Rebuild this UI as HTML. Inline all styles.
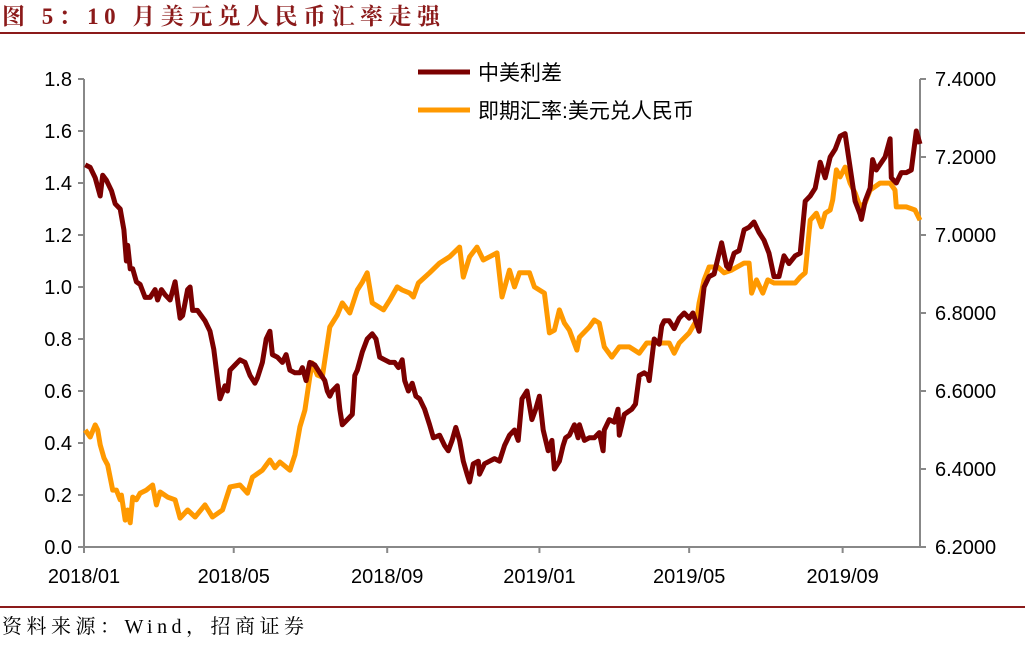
<!DOCTYPE html>
<html><head><meta charset="utf-8"><style>
body{margin:0;background:#fff;width:1025px;height:641px;overflow:hidden;font-family:"Liberation Sans","Noto Sans CJK SC",sans-serif}
</style></head><body>
<svg width="1025" height="641" xmlns="http://www.w3.org/2000/svg">
<text x="2" y="24" font-size="23" font-weight="bold" fill="#8B1A1A" textLength="438" lengthAdjust="spacing" font-family="'Liberation Serif','Noto Serif CJK SC',serif">图 5：10 月美元兑人民币汇率走强</text>
<line x1="0" y1="33" x2="1025" y2="33" stroke="#8B1A1A" stroke-width="2"/>
<line x1="0" y1="607" x2="1025" y2="607" stroke="#8B1A1A" stroke-width="2"/>
<text x="2" y="633" font-size="20" fill="#000" textLength="302" lengthAdjust="spacing" font-family="'Liberation Serif','Noto Serif CJK SC',serif">资料来源：Wind，招商证券</text>
<g id="axes"></g>
<g id="plot"></g>
<g>
<line x1="418" y1="72" x2="470" y2="72" stroke="#7B0000" stroke-width="5"/>
<text x="478" y="80" font-size="21">中美利差</text>
<line x1="418" y1="110" x2="470" y2="110" stroke="#FF9900" stroke-width="5"/>
<text x="478" y="118" font-size="21">即期汇率:美元兑人民币</text>
</g>
</svg>
<script>
const spreadDays=[1,5,9,13,15,18,22,25,29,32,34,35,37,39,42,45,49,53,57,59,62,65,69,73,75,77,79,83,85,87,91,97,101,104,109,113,115,117,121,125,129,133,137,139,143,146,149,151,155,159,162,165,169,173,175,178,181,185,189,193,195,197,199,203,205,207,211,215,217,219,223,227,231,234,237,241,245,249,252,255,257,260,263,266,269,273,277,280,285,289,292,295,298,301,304,307,309,312,316,317,321,325,329,333,337,341,345,348,351,355,359,362,365,368,372,375,377,381,384,386,389,393,396,397,401,405,409,413,416,417,421,425,428,429,433,436,439,442,445,449,452,453,457,461,463,465,469,473,477,481,485,488,493,497,501,505,511,515,517,521,525,529,533,537,541,545,549,553,557,561,565,570,574,578,582,586,590,594,598,602,606,610,614,618,622,623,626,630,632,635,642,646,647,651,655,659,663,667,670];
const spreadVals=[1.47,1.46,1.42,1.35,1.43,1.41,1.37,1.32,1.30,1.22,1.10,1.16,1.07,1.07,1.02,1.01,0.96,0.96,0.99,0.95,0.99,0.97,0.95,1.02,0.95,0.88,0.89,0.99,1.00,0.91,0.91,0.87,0.83,0.76,0.57,0.62,0.60,0.68,0.70,0.72,0.71,0.66,0.63,0.65,0.71,0.80,0.83,0.74,0.73,0.71,0.74,0.68,0.67,0.67,0.69,0.64,0.71,0.70,0.67,0.64,0.60,0.58,0.60,0.62,0.53,0.47,0.49,0.51,0.66,0.68,0.75,0.80,0.82,0.80,0.73,0.72,0.71,0.71,0.69,0.72,0.64,0.60,0.63,0.58,0.57,0.53,0.47,0.42,0.43,0.39,0.37,0.41,0.46,0.41,0.33,0.28,0.25,0.32,0.33,0.28,0.32,0.33,0.34,0.33,0.39,0.43,0.45,0.41,0.57,0.60,0.49,0.53,0.58,0.45,0.37,0.41,0.30,0.33,0.39,0.42,0.43,0.47,0.42,0.47,0.41,0.42,0.42,0.44,0.37,0.45,0.49,0.48,0.53,0.43,0.51,0.52,0.53,0.55,0.66,0.67,0.66,0.64,0.80,0.78,0.85,0.87,0.87,0.84,0.88,0.90,0.88,0.90,0.83,1.00,1.04,1.05,1.17,1.08,1.07,1.13,1.14,1.22,1.23,1.25,1.21,1.18,1.13,1.04,1.04,1.12,1.09,1.12,1.13,1.33,1.35,1.38,1.48,1.42,1.50,1.53,1.58,1.59,1.46,1.33,1.28,1.26,1.33,1.38,1.49,1.45,1.50,1.57,1.42,1.40,1.44,1.44,1.45,1.60,1.55];
const fxDays=[1,5,9,11,13,16,19,23,26,29,30,33,35,37,39,42,45,50,55,58,61,67,73,77,83,89,97,103,111,117,125,131,135,143,149,153,157,165,169,173,177,181,183,187,191,197,203,207,213,219,223,227,231,240,245,251,255,261,264,268,277,285,293,301,304,309,315,320,325,331,335,341,345,349,357,361,369,373,377,381,385,389,395,397,405,409,413,417,423,429,437,445,451,461,469,473,477,485,491,493,497,501,508,513,519,529,533,535,539,544,548,553,570,574,578,582,587,591,594,598,600,603,606,610,614,618,622,626,630,638,646,650,651,659,666,670];
const fxVals=[6.500,6.482,6.513,6.500,6.462,6.428,6.410,6.346,6.346,6.321,6.333,6.269,6.295,6.262,6.328,6.321,6.338,6.346,6.359,6.308,6.341,6.328,6.321,6.274,6.295,6.277,6.308,6.277,6.295,6.354,6.359,6.338,6.379,6.397,6.423,6.403,6.418,6.397,6.436,6.508,6.551,6.636,6.672,6.641,6.636,6.764,6.795,6.826,6.800,6.859,6.879,6.903,6.826,6.808,6.833,6.867,6.859,6.851,6.841,6.877,6.903,6.928,6.944,6.969,6.892,6.944,6.969,6.936,6.944,6.954,6.841,6.910,6.867,6.903,6.903,6.867,6.851,6.749,6.756,6.808,6.774,6.756,6.705,6.738,6.764,6.782,6.774,6.713,6.687,6.713,6.713,6.697,6.723,6.723,6.723,6.697,6.723,6.749,6.782,6.826,6.885,6.918,6.918,6.903,6.910,6.928,6.928,6.851,6.885,6.851,6.885,6.877,6.877,6.892,6.903,7.038,7.056,7.021,7.056,7.064,7.090,7.167,7.149,7.174,7.133,7.108,7.072,7.082,7.115,7.133,7.133,7.115,7.072,7.072,7.064,7.038];
const leftTicks=["0.0","0.2","0.4","0.6","0.8","1.0","1.2","1.4","1.6","1.8"];
const rightTicks=["6.2000","6.4000","6.6000","6.8000","7.0000","7.2000","7.4000"];
const xTickLabels=["2018/01","2018/05","2018/09","2019/01","2019/05","2019/09"];
const xTickDays=[0,120,243,365,485,608];

const X0=84,X1=920,Y0=547,Y1=79,DAYMAX=670;
const xs=d=>X0+(d/DAYMAX)*(X1-X0);
const yL=v=>Y0-(v/1.8)*(Y0-Y1);
const yR=v=>Y0-((v-6.2)/1.2)*(Y0-Y1);
const NS="http://www.w3.org/2000/svg";
function mk(tag,attrs,parent){const e=document.createElementNS(NS,tag);for(const k in attrs)e.setAttribute(k,attrs[k]);parent.appendChild(e);return e;}
const axes=document.getElementById('axes'),plot=document.getElementById('plot');
let e=mk('line',{x1:X0,y1:Y1,x2:X0,y2:Y0,stroke:'#888','stroke-width':2},axes);


e=mk('line',{x1:X1,y1:Y1,x2:X1,y2:Y0,stroke:'#888','stroke-width':2},axes);


e=mk('line',{x1:X0,y1:Y0,x2:X1,y2:Y0,stroke:'#888','stroke-width':2},axes);


leftTicks.forEach(t=>{const y=yL(parseFloat(t));
 mk('line',{x1:X0-6,y1:y,x2:X0,y2:y,stroke:'#888','stroke-width':2},axes);
 const tx=mk('text',{x:X0-12,y:y+7,'font-size':20,'text-anchor':'end'},axes);tx.textContent=t;
 
 });
rightTicks.forEach(t=>{const y=yR(parseFloat(t));
 mk('line',{x1:X1,y1:y,x2:X1+6,y2:y,stroke:'#888','stroke-width':2},axes);
 const tx=mk('text',{x:X1+15,y:y+7,'font-size':20},axes);tx.textContent=t;
 
 });
xTickLabels.forEach((t,i)=>{const x=xs(xTickDays[i]);
 mk('line',{x1:x,y1:Y0,x2:x,y2:Y0+6,stroke:'#888','stroke-width':2},axes);
 const tx=mk('text',{x:x,y:Y0+36,'font-size':20,'text-anchor':'middle'},axes);tx.textContent=t;
 
 });
function path(days,vals,yf){return days.map((d,i)=>(i?'L':'M')+xs(d).toFixed(1)+','+yf(vals[i]).toFixed(1)).join('');}
const pf=mk('path',{d:path(fxDays,fxVals,yR),fill:'none',stroke:'#FF9900','stroke-width':5,'stroke-linejoin':'round'},plot);


const ps=mk('path',{d:path(spreadDays,spreadVals,yL),fill:'none',stroke:'#7B0000','stroke-width':5,'stroke-linejoin':'round'},plot);


</script>
</body></html>
